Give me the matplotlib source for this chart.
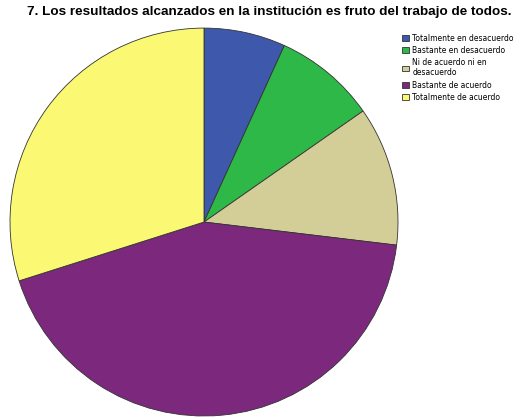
import matplotlib.pyplot as plt

plt.rcParams['font.family'] = ['Liberation Sans', 'DejaVu Sans']

labels = ['Totalmente en desacuerdo', 'Bastante en desacuerdo',
          'Ni de acuerdo ni en\ndesacuerdo', 'Bastante de acuerdo',
          'Totalmente de acuerdo']
percent = [6.8, 8.5, 11.6, 43.2, 29.9]
colors = ['#3E58AC', '#2EB848', '#D3CE97', '#7C287D', '#FBF873']

fig = plt.figure(figsize=(5.21, 4.18), dpi=100)
ax = fig.add_axes([0.0192, 0.0048, 0.7447, 0.928])

wedges, _ = ax.pie(percent, colors=colors, startangle=90, counterclock=False,
                   wedgeprops={'edgecolor': '#333333', 'linewidth': 0.6})
ax.set_xlim(-1.0, 1.0)
ax.set_ylim(-1.0, 1.0)
ax.set_aspect('auto')

fig.text(0.517, 0.972, '7. Los resultados alcanzados en la institución es fruto del trabajo de todos.',
         ha='center', va='center', fontsize=9.7, fontweight='bold')

fig.legend(wedges, labels, loc='upper left', bbox_to_anchor=(0.765, 0.927),
           frameon=False, prop={'family': 'DejaVu Sans', 'size': 5.5},
           handlelength=0.95, handleheight=0.7, handletextpad=0.45,
           labelspacing=0.42, borderaxespad=0)

fig.savefig('out.png', dpi=100)
